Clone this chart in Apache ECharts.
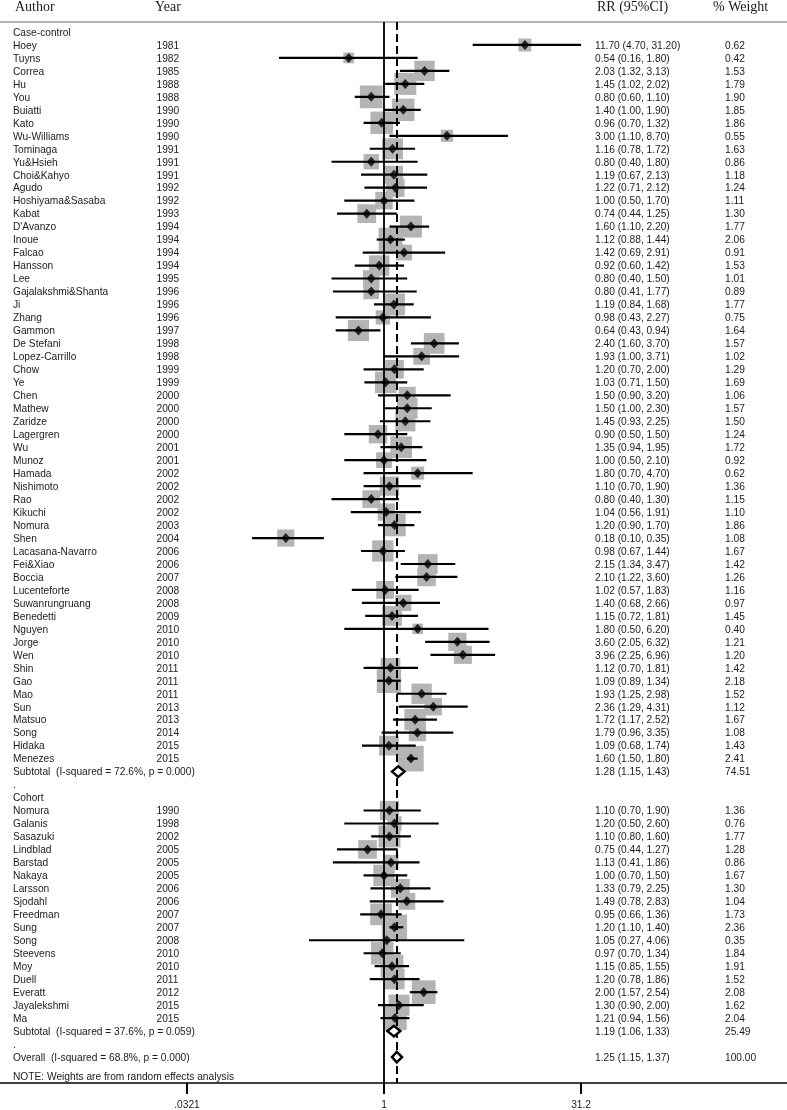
<!DOCTYPE html>
<html><head><meta charset="utf-8">
<script src="https://cdn.jsdelivr.net/npm/echarts@6/dist/echarts.min.js"></script>
<style>html,body{margin:0;padding:0;background:#fff}#c{width:787px;height:1110px}</style>
</head><body><div id="c"></div>
<script>
// ---------------- DATA ----------------
const headers = ['Author', 'Year', 'RR (95%CI)', '% Weight'];
const groupNames = ['Case-control', 'Cohort'];

const ccAuthors = ['Hoey','Tuyns','Correa','Hu','You','Buiatti','Kato','Wu-Williams','Tominaga','Yu&Hsieh','Choi&Kahyo','Agudo','Hoshiyama&Sasaba','Kabat',"D'Avanzo",'Inoue','Falcao','Hansson','Lee','Gajalakshmi&Shanta','Ji','Zhang','Gammon','De Stefani','Lopez-Carrillo','Chow','Ye','Chen','Mathew','Zaridze','Lagergren','Wu','Munoz','Hamada','Nishimoto','Rao','Kikuchi','Nomura','Shen','Lacasana-Navarro','Fei&Xiao','Boccia','Lucenteforte','Suwanrungruang','Benedetti','Nguyen','Jorge','Wen','Shin','Gao','Mao','Sun','Matsuo','Song','Hidaka','Menezes'];
const ccYears = [1981,1982,1985,1988,1988,1990,1990,1990,1991,1991,1991,1992,1992,1993,1994,1994,1994,1994,1995,1996,1996,1996,1997,1998,1998,1999,1999,2000,2000,2000,2000,2001,2001,2002,2002,2002,2002,2003,2004,2006,2006,2007,2008,2008,2009,2010,2010,2010,2011,2011,2011,2013,2013,2014,2015,2015];
const ccRR = [11.70,0.54,2.03,1.45,0.80,1.40,0.96,3.00,1.16,0.80,1.19,1.22,1.00,0.74,1.60,1.12,1.42,0.92,0.80,0.80,1.19,0.98,0.64,2.40,1.93,1.20,1.03,1.50,1.50,1.45,0.90,1.35,1.00,1.80,1.10,0.80,1.04,1.20,0.18,0.98,2.15,2.10,1.02,1.40,1.15,1.80,3.60,3.96,1.12,1.09,1.93,2.36,1.72,1.79,1.09,1.60];
const ccLo = [4.70,0.16,1.32,1.02,0.60,1.00,0.70,1.10,0.78,0.40,0.67,0.71,0.50,0.44,1.10,0.88,0.69,0.60,0.40,0.41,0.84,0.43,0.43,1.60,1.00,0.70,0.71,0.90,1.00,0.93,0.50,0.94,0.50,0.70,0.70,0.40,0.56,0.90,0.10,0.67,1.34,1.22,0.57,0.68,0.72,0.50,2.05,2.25,0.70,0.89,1.25,1.29,1.17,0.96,0.68,1.50];
const ccHi = [31.20,1.80,3.13,2.02,1.10,1.90,1.32,8.70,1.72,1.80,2.13,2.12,1.70,1.25,2.20,1.44,2.91,1.42,1.50,1.77,1.68,2.27,0.94,3.70,3.71,2.00,1.50,3.20,2.30,2.25,1.50,1.95,2.10,4.70,1.90,1.30,1.91,1.70,0.35,1.44,3.47,3.60,1.83,2.66,1.81,6.20,6.32,6.96,1.81,1.34,2.98,4.31,2.52,3.35,1.74,1.80];
const ccWeight = [0.62,0.42,1.53,1.79,1.90,1.85,1.86,0.55,1.63,0.86,1.18,1.24,1.11,1.30,1.77,2.06,0.91,1.53,1.01,0.89,1.77,0.75,1.64,1.57,1.02,1.29,1.69,1.06,1.57,1.50,1.24,1.72,0.92,0.62,1.36,1.15,1.10,1.86,1.08,1.67,1.42,1.26,1.16,0.97,1.45,0.40,1.21,1.20,1.42,2.18,1.52,1.12,1.67,1.08,1.43,2.41];
const ccSubtotal = [1.28, 1.15, 1.43, 74.51];
const ccHetLabel = 'Subtotal  (I-squared = 72.6%, p = 0.000)';

const coAuthors = ['Nomura','Galanis','Sasazuki','Lindblad','Barstad','Nakaya','Larsson','Sjodahl','Freedman','Sung','Song','Steevens','Moy','Duell','Everatt','Jayalekshmi','Ma'];
const coYears = [1990,1998,2002,2005,2005,2005,2006,2006,2007,2007,2008,2010,2010,2011,2012,2015,2015];
const coRR = [1.10,1.20,1.10,0.75,1.13,1.00,1.33,1.49,0.95,1.20,1.05,0.97,1.15,1.20,2.00,1.30,1.21];
const coLo = [0.70,0.50,0.80,0.44,0.41,0.70,0.79,0.78,0.66,1.10,0.27,0.70,0.85,0.78,1.57,0.90,0.94];
const coHi = [1.90,2.60,1.60,1.27,1.86,1.50,2.25,2.83,1.36,1.40,4.06,1.34,1.55,1.86,2.54,2.00,1.56];
const coWeight = [1.36,0.76,1.77,1.28,0.86,1.67,1.30,1.04,1.73,2.36,0.35,1.84,1.91,1.52,2.08,1.62,2.04];
const coSubtotal = [1.19, 1.06, 1.33, 25.49];
const coHetLabel = 'Subtotal  (I-squared = 37.6%, p = 0.059)';

const overallValues = [1.25, 1.15, 1.37, 100.00];
const overallLabel = 'Overall  (I-squared = 68.8%, p = 0.000)';
const noteText = 'NOTE: Weights are from random effects analysis';

const tickValues = [0.0321, 1, 31.2];
const tickLabels = ['.0321', '1', '31.2'];
const nullValue = 1;

// ---------------- LAYOUT ----------------
const W = 787, ROW0 = 32, ROWH = 13, GRID_TOP = 22, AXIS_Y = 1085;
const X_ONE = 384, PX_DEC = 131.9;
const COL = {author: 13, year: 156.5, rr: 595, weight: 725};
const HCOL = {author: 15, year: 155, rr: 597, weight: 713};
const TEXT_DY = 1; // baseline nudge for body text
const SANS = "'Liberation Sans', Arial, sans-serif";
const SERIF = "'Liberation Serif', 'Times New Roman', serif";
const TXT = '#1a1a1a';
const BODY_FONT = '10.2px ' + SANS;
const HEAD_FONT = '14px ' + SERIF;
const BOX_K = 16.5;

const f2 = v => v.toFixed(2);
const ciText = (r, l, h) => `${f2(r)} (${f2(l)}, ${f2(h)})`;

const texts = [];   // {x, y, text, font}
const studies = []; // {rr, lo, hi, w, y}
const summaries = []; // {rr, lo, hi, y}
let idx = 0;
function addText(x, y, text, font) { texts.push({x, y, text, font: font || BODY_FONT}); }

function addGroup(name, au, yr, rr, lo, hi, wt, sub, het) {
  addText(COL.author, idx, name); idx++;
  for (let i = 0; i < au.length; i++) {
    studies.push({rr: rr[i], lo: lo[i], hi: hi[i], w: wt[i], y: idx});
    addText(COL.author, idx, au[i]);
    addText(COL.year, idx, String(yr[i]));
    addText(COL.rr, idx, ciText(rr[i], lo[i], hi[i]));
    addText(COL.weight, idx, f2(wt[i]));
    idx++;
  }
  summaries.push({rr: sub[0], lo: sub[1], hi: sub[2], y: idx});
  addText(COL.author, idx, het);
  addText(COL.rr, idx, ciText(sub[0], sub[1], sub[2]));
  addText(COL.weight, idx, f2(sub[3]));
  idx++;
  addText(COL.author, idx, '.'); idx++;
}
addGroup(groupNames[0], ccAuthors, ccYears, ccRR, ccLo, ccHi, ccWeight, ccSubtotal, ccHetLabel);
addGroup(groupNames[1], coAuthors, coYears, coRR, coLo, coHi, coWeight, coSubtotal, coHetLabel);
summaries.push({rr: overallValues[0], lo: overallValues[1], hi: overallValues[2], y: idx});
addText(COL.author, idx, overallLabel);
addText(COL.rr, idx, ciText(overallValues[0], overallValues[1], overallValues[2]));
addText(COL.weight, idx, f2(overallValues[3]));
addText(COL.author, idx + 1.5, noteText);

const headY = (7 - ROW0) / ROWH;
addText(HCOL.author, headY, headers[0], HEAD_FONT);
addText(HCOL.year, headY, headers[1], HEAD_FONT);
addText(HCOL.rr, headY, headers[2], HEAD_FONT);
addText(HCOL.weight, headY, headers[3], HEAD_FONT);

const yMin = (GRID_TOP - ROW0) / ROWH;
const yMax = (AXIS_Y - ROW0) / ROWH;
const xMin = Math.pow(10, -X_ONE / PX_DEC);
const xMax = Math.pow(10, (W - X_ONE) / PX_DEC);

function tickFormatter(v) {
  for (let i = 0; i < tickValues.length; i++) {
    if (Math.abs(Math.log(v / tickValues[i])) < 0.01) return tickLabels[i];
  }
  return '';
}

const chart = echarts.init(document.getElementById('c'), null, {renderer: 'canvas'});
chart.setOption({
  animation: false,
  backgroundColor: '#fff',
  grid: {left: 0, right: 0, top: GRID_TOP, bottom: 1110 - AXIS_Y, containLabel: false},
  xAxis: [
    {
      type: 'log', logBase: 10, min: xMin, max: xMax, position: 'bottom',
      axisLine: {show: true, onZero: false, lineStyle: {color: '#000', width: 1.5}},
      axisTick: {show: true, customValues: tickValues, length: 11, lineStyle: {color: '#000', width: 2}},
      axisLabel: {show: true, customValues: tickValues, formatter: tickFormatter, margin: 17,
        fontSize: 10.2, fontFamily: SANS, color: TXT},
      splitLine: {show: false}, minorTick: {show: false}
    },
    {
      type: 'value', min: 0, max: W, position: 'top',
      axisLine: {show: true, onZero: false, lineStyle: {color: '#b4b4b4', width: 2}},
      axisTick: {show: false}, axisLabel: {show: false}, splitLine: {show: false}
    }
  ],
  yAxis: [{type: 'value', inverse: true, min: yMin, max: yMax, show: false, splitLine: {show: false}}],
  series: [
    { // reference lines
      type: 'scatter', xAxisIndex: 0, yAxisIndex: 0, data: [], z: 1, silent: true,
      markLine: {
        silent: true, symbol: ['none', 'none'], label: {show: false},
        data: [
          {xAxis: nullValue, lineStyle: {color: '#000', width: 1.8, type: 'solid'}},
          {xAxis: overallValues[0], lineStyle: {color: '#000', width: 2, type: [8, 4]}}
        ]
      }
    },
    { // weight boxes
      type: 'scatter', xAxisIndex: 0, yAxisIndex: 0, z: 2, silent: true,
      symbol: 'rect',
      data: studies.map(s => ({value: [s.rr, s.y], symbolSize: BOX_K * Math.sqrt(s.w)})),
      itemStyle: {color: '#b4b4b4', opacity: 1}
    },
    { // CI lines
      type: 'custom', xAxisIndex: 0, yAxisIndex: 0, z: 3, silent: true,
      data: studies.map(s => [s.lo, s.hi, s.y]),
      encode: {x: [0, 1], y: 2},
      renderItem: function (params, api) {
        const a = api.coord([api.value(0), api.value(2)]);
        const b = api.coord([api.value(1), api.value(2)]);
        return {type: 'line', shape: {x1: a[0], y1: a[1], x2: b[0], y2: b[1]},
          style: {stroke: '#000', lineWidth: 2.2}};
      }
    },
    { // point estimates
      type: 'scatter', xAxisIndex: 0, yAxisIndex: 0, z: 4, silent: true,
      symbol: 'diamond', symbolSize: [9, 10],
      data: studies.map(s => [s.rr, s.y]),
      itemStyle: {color: '#000'}
    },
    { // summary diamonds
      type: 'custom', xAxisIndex: 0, yAxisIndex: 0, z: 5, silent: true,
      data: summaries.map(s => [s.lo, s.rr, s.hi, s.y]),
      encode: {x: [0, 2], y: 3},
      renderItem: function (params, api) {
        const y = api.value(3);
        const l = api.coord([api.value(0), y]);
        const c = api.coord([api.value(1), y]);
        const r = api.coord([api.value(2), y]);
        const h = 5.3;
        return {type: 'polygon',
          shape: {points: [[l[0], l[1]], [c[0], c[1] - h], [r[0], r[1]], [c[0], c[1] + h]]},
          style: {fill: '#fff', stroke: '#000', lineWidth: 2.5, lineJoin: 'miter'}};
      }
    },
    { // text columns
      type: 'custom', xAxisIndex: 1, yAxisIndex: 0, z: 6, silent: true, clip: false,
      data: texts.map(t => [t.x, t.y]),
      encode: {x: 0, y: 1},
      renderItem: function (params, api) {
        const t = texts[params.dataIndex];
        const p = api.coord([t.x, t.y]);
        const dy = t.font === BODY_FONT ? TEXT_DY : 0;
        return {type: 'text', x: p[0], y: p[1] + dy,
          style: {text: t.text, font: t.font, fill: TXT, align: 'left', verticalAlign: 'middle'}};
      }
    }
  ]
});
</script>
</body></html>
